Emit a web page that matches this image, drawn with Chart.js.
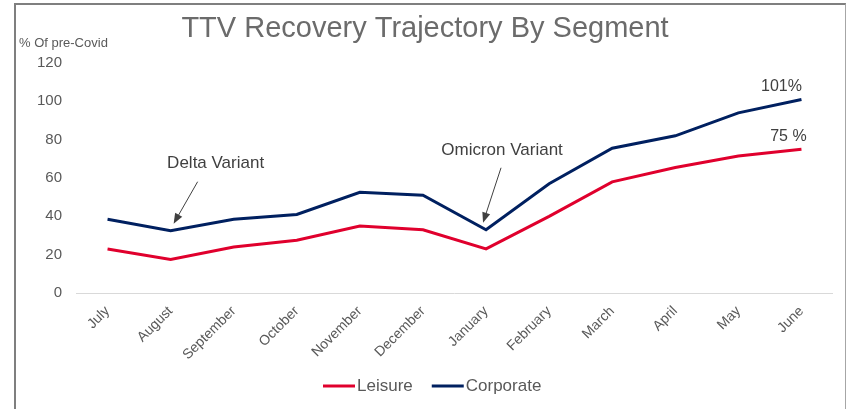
<!DOCTYPE html>
<html>
<head>
<meta charset="utf-8">
<script src="https://cdn.jsdelivr.net/npm/chart.js@4.4.1/dist/chart.umd.min.js"></script>
<style>
  body { margin: 0; background: #fff; }
  #wrap { position: relative; width: 848px; height: 409px; overflow: hidden; }
  #frame { position: absolute; left: 14px; top: 3px; width: 829px; height: 430px;
           border-left: 2px solid #7f7f7f; border-top: 2px solid #7f7f7f; border-right: 1px solid #a6a6a6; }
  canvas { position: absolute; left: 0; top: 0; }
</style>
</head>
<body>
<div id="wrap">
  <div id="frame"></div>
  <canvas id="lineChart"></canvas>
</div>
<script>
// values
const months = ['July', 'August', 'September', 'October', 'November', 'December',
                'January', 'February', 'March', 'April', 'May', 'June'];
const leisure = [23, 17.5, 24, 27.5, 35, 33, 23, 40, 58, 65.5, 71.5, 75];
const corporate = [38.5, 32.5, 38.5, 41, 52.5, 51, 33, 57, 75.5, 82, 94, 101];
const seriesNames = ['Leisure', 'Corporate'];
const seriesColors = ['#E0002D', '#002060'];
const endLabels = ['75 %', '101%'];
const callouts = ['Delta Variant', 'Omicron Variant'];
const calloutMonths = ['August', 'January'];
const yMin = 0, yMax = 120, yStep = 20;

const FONT = "'Liberation Sans', Arial, sans-serif";
const grey = '#595959';

function arrow(ctx, x1, y1, x2, y2) {
    const ang = Math.atan2(y2 - y1, x2 - x1);
    const head = 11;
    ctx.beginPath();
    ctx.moveTo(x1, y1);
    ctx.lineTo(x2 - Math.cos(ang) * head * 0.8, y2 - Math.sin(ang) * head * 0.8);
    ctx.stroke();
    ctx.beginPath();
    ctx.moveTo(x2, y2);
    ctx.lineTo(x2 - head * Math.cos(ang - 0.38), y2 - head * Math.sin(ang - 0.38));
    ctx.lineTo(x2 - head * Math.cos(ang + 0.38), y2 - head * Math.sin(ang + 0.38));
    ctx.closePath();
    ctx.fill();
}

const extras = {
    id: 'extras',
    afterDraw(chart) {
        const ctx = chart.ctx;
        const xs = chart.scales.x, ys = chart.scales.y;
        ctx.save();

        // title and axis caption
        ctx.fillStyle = '#6b6b6b';
        ctx.textAlign = 'center';
        ctx.textBaseline = 'middle';
        ctx.font = '29px ' + FONT;
        ctx.fillText('TTV Recovery Trajectory By Segment', chart.width / 2 + 1, 29);
        ctx.fillStyle = grey;
        ctx.textAlign = 'left';
        ctx.font = '13px ' + FONT;
        ctx.fillText('% Of pre-Covid', 19, 43);

        // end labels
        ctx.fillStyle = '#404040';
        ctx.font = '16px ' + FONT;
        ctx.textAlign = 'center';
        ctx.textBaseline = 'alphabetic';
        const last = months.length - 1;
        const lx = xs.getPixelForValue(last);
        ctx.fillText(endLabels[0], lx - 13, ys.getPixelForValue(leisure[last]) - 8);
        ctx.fillText(endLabels[1], lx - 20, ys.getPixelForValue(corporate[last]) - 8);

        // callouts with arrows
        ctx.strokeStyle = '#404040';
        ctx.lineWidth = 1;
        ctx.font = '17px ' + FONT;
        ctx.textBaseline = 'middle';
        const d = months.indexOf(calloutMonths[0]);
        let px = xs.getPixelForValue(d), py = ys.getPixelForValue(corporate[d]);
        ctx.fillText(callouts[0], px + 45, py - 67);
        arrow(ctx, px + 27, py - 49, px + 3, py - 7);
        const o = months.indexOf(calloutMonths[1]);
        px = xs.getPixelForValue(o); py = ys.getPixelForValue(corporate[o]);
        ctx.fillText(callouts[1], px + 16, py - 79);
        arrow(ctx, px + 15, py - 62, px - 3, py - 7);

        // legend
        ctx.font = '17px ' + FONT;
        ctx.textAlign = 'left';
        let x = 323;
        const ly = 386;
        chart.data.datasets.forEach(ds => {
            ctx.strokeStyle = ds.borderColor;
            ctx.lineWidth = 3;
            ctx.beginPath();
            ctx.moveTo(x, ly);
            ctx.lineTo(x + 32, ly);
            ctx.stroke();
            ctx.fillStyle = grey;
            ctx.fillText(ds.label, x + 34, ly);
            x += 34 + ctx.measureText(ds.label).width + 19;
        });
        ctx.restore();
    }
};

new Chart(document.getElementById('lineChart').getContext('2d'), {
    type: 'line',
    data: {
        labels: months,
        datasets: [{
            label: seriesNames[0],
            data: leisure,
            borderColor: seriesColors[0],
            backgroundColor: seriesColors[0],
            borderWidth: 3,
            pointRadius: 0,
            tension: 0
        }, {
            label: seriesNames[1],
            data: corporate,
            borderColor: seriesColors[1],
            backgroundColor: seriesColors[1],
            borderWidth: 3,
            pointRadius: 0,
            tension: 0
        }]
    },
    options: {
        responsive: true,
        maintainAspectRatio: false,
        animation: false,
        layout: { padding: { top: 63, left: 0, right: 15, bottom: 0 } },
        plugins: {
            legend: { display: false },
            title: { display: false },
            tooltip: { enabled: false }
        },
        scales: {
            x: {
                offset: true,
                grid: { display: false },
                border: { display: false },
                ticks: {
                    color: grey,
                    font: { family: FONT, size: 14 },
                    minRotation: 45,
                    maxRotation: 45,
                    padding: 2,
                    autoSkip: false
                },
                afterFit(scale) { scale.height = 116; }
            },
            y: {
                min: yMin,
                max: yMax,
                ticks: {
                    stepSize: yStep,
                    color: grey,
                    font: { family: FONT, size: 15 },
                    padding: 14
                },
                grid: {
                    drawTicks: false,
                    color: c => c.tick && c.tick.value === 0 ? '#d9d9d9' : 'rgba(0,0,0,0)'
                },
                border: { display: false },
                afterFit(scale) { scale.width = 76; }
            }
        }
    },
    plugins: [extras]
});
</script>
</body>
</html>
